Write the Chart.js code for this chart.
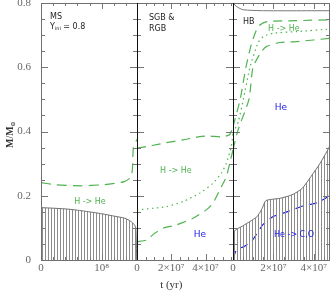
<!DOCTYPE html>
<html>
<head>
<meta charset="utf-8">
<script src="https://cdn.jsdelivr.net/npm/chart.js@4.4.0/dist/chart.umd.min.js"></script>
<style>
  html, body { margin: 0; padding: 0; background: #fff; }
  #wrap { width: 332px; height: 291px; }
</style>
</head>
<body>
<div id="wrap"><canvas id="chartCanvas"></canvas></div>
<script>
// time range of each panel (yr) and its tick labels
const panelMax = [1.58e8, 5.6e7, 4.8e7];
const panelTicks = [[0, 1e8], [0, 2e7, 4e7], [0, 2e7, 4e7]];
const tickLabels = [['0', '10⁸'], ['0', '2×10⁷', '4×10⁷'], ['0', '2×10⁷', '4×10⁷']];
const minorStep = [2e7, 5e6, 5e6];
const yTicks = [0, 0.2, 0.4, 0.6, 0.8];

// MS: convective core and H-burning region
const msCore = [[0, 0.163], [2.3e7, 0.161], [4.7e7, 0.158], [7.2e7, 0.152], [1.0e8, 0.144],
  [1.22e8, 0.136], [1.38e8, 0.130], [1.48e8, 0.120], [1.535e8, 0.110], [1.56e8, 0.100], [1.575e8, 0]];
const msShell = [[0, 0.241], [2.4e7, 0.234], [6.5e7, 0.231], [1.0e8, 0.234], [1.18e8, 0.238],
  [1.37e8, 0.244], [1.48e8, 0.258], [1.505e8, 0.285], [1.52e8, 0.350], [1.55e8, 0.360], [1.575e8, 0.375]];

// SGB & RGB: H-burning shell (outer, middle, inner)
const rgbOuter = [[0, 0.348], [5.4e6, 0.353], [1.22e7, 0.360], [1.69e7, 0.365], [2.68e7, 0.374],
  [3.66e7, 0.384], [4.24e7, 0.386], [4.9e7, 0.383], [5.4e7, 0.390], [5.6e7, 0.415]];
const rgbMid = [[0, 0.156], [9.3e6, 0.161], [1.71e7, 0.166], [2.68e7, 0.182], [3.66e7, 0.208],
  [4.43e7, 0.239], [4.92e7, 0.270], [5.21e7, 0.301], [5.5e7, 0.353], [5.6e7, 0.396]];
const rgbInner = [[0, 0.057], [5.4e6, 0.062], [1.03e7, 0.083], [1.52e7, 0.099], [2.29e7, 0.109],
  [3.27e7, 0.130], [4.04e7, 0.156], [4.43e7, 0.177], [4.82e7, 0.218], [5.21e7, 0.260], [5.6e7, 0.343]];

// HB
const hbEnvelope = [[0, 0.800], [2e6, 0.788], [5e6, 0.779], [1.5e7, 0.776], [4.8e7, 0.776]];
const hbEnvelopeEdge = [[0, 0.675], [0, 0.800]];
const hbCore = [[0, 0.085], [1.5e6, 0.095], [4.5e6, 0.105], [8.4e6, 0.120], [1.19e7, 0.135],
  [1.44e7, 0.160], [1.63e7, 0.185], [2.33e7, 0.192], [2.92e7, 0.203], [3.41e7, 0.222],
  [3.86e7, 0.260], [4.3e7, 0.300], [4.75e7, 0.350], [4.8e7, 0.362]];
const hbOuter = [[0, 0.415], [3.5e6, 0.498], [6.4e6, 0.600], [9.3e6, 0.676], [1.25e7, 0.727],
  [1.67e7, 0.742], [3.15e7, 0.745], [4.8e7, 0.748]];
const hbMid = [[0, 0.396], [2.6e6, 0.430], [5.1e6, 0.500], [8.4e6, 0.600], [1.24e7, 0.676],
  [1.5e7, 0.696], [1.98e7, 0.706], [3.15e7, 0.711], [4.8e7, 0.719]];
const hbInner = [[0, 0.343], [2.5e6, 0.405], [7.9e6, 0.500], [9.9e6, 0.600], [1.42e7, 0.650],
  [1.67e7, 0.665], [2.33e7, 0.677], [3.15e7, 0.680], [4.8e7, 0.690]];
const hbHeShell = [[0, 0.005], [2e6, 0.035], [5e6, 0.040], [9.4e6, 0.060], [1.48e7, 0.110],
  [1.98e7, 0.135], [2.67e7, 0.150], [3.46e7, 0.168], [4.16e7, 0.178], [4.7e7, 0.198],
  [4.78e7, 0.220], [4.79e7, 0.380]];

const green = '#4fb34f';
const blue = '#2020e8';

const hatchCanvas = document.createElement('canvas');
hatchCanvas.width = 3;
hatchCanvas.height = 8;
const hctx = hatchCanvas.getContext('2d');
hctx.fillStyle = '#8c8c8c';
hctx.fillRect(0, 0, 1, 8);
const ctx = document.getElementById('chartCanvas').getContext('2d');
const hatch = ctx.createPattern(hatchCanvas, 'repeat');

const xy = arr => arr.map(p => ({x: p[0], y: p[1]}));

function line(data, axis, color, dash, extra) {
    return Object.assign({
        data: xy(data),
        xAxisID: axis,
        yAxisID: 'y',
        borderColor: color,
        borderWidth: 1.2,
        borderDash: dash,
        pointRadius: 0,
        fill: false,
        tension: 0.2,
    }, extra || {});
}

const datasets = [
    line(msCore, 'x1', '#6f6f6f', [], {borderWidth: 1, fill: 'origin', backgroundColor: hatch}),
    line(msShell, 'x1', green, [10, 6]),
    line(rgbOuter, 'x2', green, [9, 6]),
    line(rgbMid, 'x2', green, [1.5, 3.5]),
    line(rgbInner, 'x2', green, [9, 6]),
    line(hbCore, 'x3', '#6f6f6f', [], {borderWidth: 1, fill: 'origin', backgroundColor: hatch}),
    line(hbEnvelope, 'x3', '#777777', [], {borderWidth: 1}),
    line(hbEnvelopeEdge, 'x3', '#777777', [], {borderWidth: 1}),
    line(hbOuter, 'x3', green, [9, 6]),
    line(hbMid, 'x3', green, [1.5, 3.5]),
    line(hbInner, 'x3', green, [9, 6]),
    line(hbHeShell, 'x3', blue, [8, 6]),
];

const tickFont = {family: 'Liberation Serif', size: 11};

const scales = {
    y: {
        min: 0, max: 0.8,
        afterBuildTicks: s => { s.ticks = yTicks.map(v => ({value: v})); },
        ticks: {
            callback: v => v === 0 ? '0' : v.toFixed(1),
            color: '#666', font: tickFont, padding: 10,
        },
        grid: {display: false, drawTicks: false},
        border: {display: false},
        afterFit: s => { s.width = 41; s.paddingTop = 0; s.paddingBottom = 0; },
    },
};
['x1', 'x2', 'x3'].forEach((id, i) => {
    scales[id] = {
        type: 'linear', position: 'bottom', stack: 'time', stackWeight: i === 2 ? 97 : 96,
        min: 0, max: panelMax[i], offset: false,
        afterBuildTicks: s => { s.ticks = panelTicks[i].map(v => ({value: v})); },
        ticks: {
            autoSkip: false, maxRotation: 0, minRotation: 0,
            callback: (v, k) => tickLabels[i][k],
            color: '#666', font: tickFont, padding: 2,
        },
        grid: {display: false, drawTicks: false},
        border: {display: false},
        afterFit: s => { s.height = 31; s.paddingLeft = 0; s.paddingRight = 0; },
    };
});

// text labels inside the panels (panel axis, time, mass)
const notes = [
    {axis: 'x1', t: 1.48e7, m: 0.757, text: 'MS', color: '#222', align: 'left', size: 8},
    {axis: 'x2', t: 7.0e6, m: 0.754, text: 'SGB &', color: '#222', align: 'left', size: 8},
    {axis: 'x2', t: 7.0e6, m: 0.720, text: 'RGB', color: '#222', align: 'left', size: 8},
    {axis: 'x3', t: 4.9e6, m: 0.741, text: 'HB', color: '#222', align: 'left', size: 8},
    {axis: 'x1', t: 8.06e7, m: 0.181, text: 'H -> He', color: green, align: 'center', size: 8},
    {axis: 'x2', t: 2.27e7, m: 0.277, text: 'H -> He', color: green, align: 'center', size: 8},
    {axis: 'x2', t: 3.67e7, m: 0.078, text: 'He', color: blue, align: 'center', size: 9},
    {axis: 'x3', t: 2.52e7, m: 0.720, text: 'H -> He', color: green, align: 'center', size: 8},
    {axis: 'x3', t: 2.37e7, m: 0.474, text: 'He', color: blue, align: 'center', size: 9},
    {axis: 'x3', t: 3.02e7, m: 0.078, text: 'He -> C,O', color: blue, align: 'center', size: 8},
];

const framePlugin = {
    id: 'frame',
    afterDatasetsDraw(chart) {
        const {ctx, chartArea: a, scales: sc} = chart;
        const y = sc.y;
        const seg = (x1, y1, x2, y2) => { ctx.beginPath(); ctx.moveTo(x1, y1); ctx.lineTo(x2, y2); ctx.stroke(); };
        ctx.save();
        ctx.lineWidth = 1;
        ctx.strokeStyle = '#777';
        ['x1', 'x2', 'x3'].forEach((id, i) => {
            const sx = sc[id];
            for (let k = 0; k <= 16; k++) {
                const py = Math.round(y.getPixelForValue(k * 0.05)) + 0.5;
                const len = k % 4 === 0 ? 7 : 4;
                seg(sx.left, py, sx.left + len, py);
                seg(sx.right, py, sx.right - len, py);
            }
            const n = Math.floor(panelMax[i] / minorStep[i] + 1e-6);
            for (let k = 0; k <= n; k++) {
                const t = k * minorStep[i];
                const px = Math.round(sx.getPixelForValue(t)) + 0.5;
                const len = panelTicks[i].includes(t) ? 6 : 3;
                seg(px, a.bottom, px, a.bottom - len);
                seg(px, a.top, px, a.top + len);
            }
        });
        ctx.strokeStyle = '#707070';
        ctx.strokeRect(Math.round(a.left) + 0.5, Math.round(a.top) + 0.5,
            Math.round(a.right - a.left) - 1, Math.round(a.bottom - a.top));
        ctx.strokeStyle = '#111';
        ['x2', 'x3'].forEach(id => {
            const px = Math.round(sc[id].left) + 0.5;
            seg(px, a.top, px, a.bottom);
        });

        // annotations
        ctx.textBaseline = 'middle';
        notes.forEach(n => {
            ctx.fillStyle = n.color;
            ctx.textAlign = n.align;
            ctx.font = n.size + 'px "DejaVu Sans"';
            ctx.fillText(n.text, sc[n.axis].getPixelForValue(n.t), y.getPixelForValue(n.m));
        });
        // Y_ini = 0.8
        let px = sc.x1.getPixelForValue(1.48e7);
        const py = y.getPixelForValue(0.726);
        ctx.fillStyle = '#222';
        ctx.textAlign = 'left';
        ctx.font = '8px "DejaVu Sans"';
        ctx.fillText('Y', px, py);
        px += ctx.measureText('Y').width;
        ctx.font = '5px "DejaVu Sans"';
        ctx.fillText('ini', px, py + 2);
        px += ctx.measureText('ini').width;
        ctx.font = '8px "DejaVu Sans"';
        ctx.fillText(' = 0.8', px, py);

        // axis titles
        ctx.fillStyle = '#333';
        ctx.textAlign = 'center';
        ctx.font = '11px "Liberation Serif"';
        ctx.fillText('t (yr)', sc.x2.getPixelForValue(2e7), 285);

        ctx.translate(10, y.getPixelForValue(0.39));
        ctx.rotate(-Math.PI / 2);
        ctx.font = 'bold 10px "Liberation Serif"';
        ctx.textAlign = 'left';
        const w1 = ctx.measureText('M/M').width;
        ctx.font = 'bold 6px "DejaVu Sans"';
        const w2 = ctx.measureText('⊙').width;
        let x0 = -(w1 + w2) / 2;
        ctx.font = 'bold 10px "Liberation Serif"';
        ctx.fillText('M/M', x0, 0);
        ctx.font = 'bold 6px "DejaVu Sans"';
        ctx.fillText('⊙', x0 + w1, 3);
        ctx.restore();
    }
};

new Chart(ctx, {
    type: 'line',
    data: {datasets: datasets},
    options: {
        responsive: true,
        maintainAspectRatio: false,
        animation: false,
        layout: {padding: {top: 3, right: 2, left: 0, bottom: 0}},
        plugins: {legend: {display: false}, tooltip: {enabled: false}},
        scales: scales,
    },
    plugins: [framePlugin],
});
</script>
</body>
</html>
